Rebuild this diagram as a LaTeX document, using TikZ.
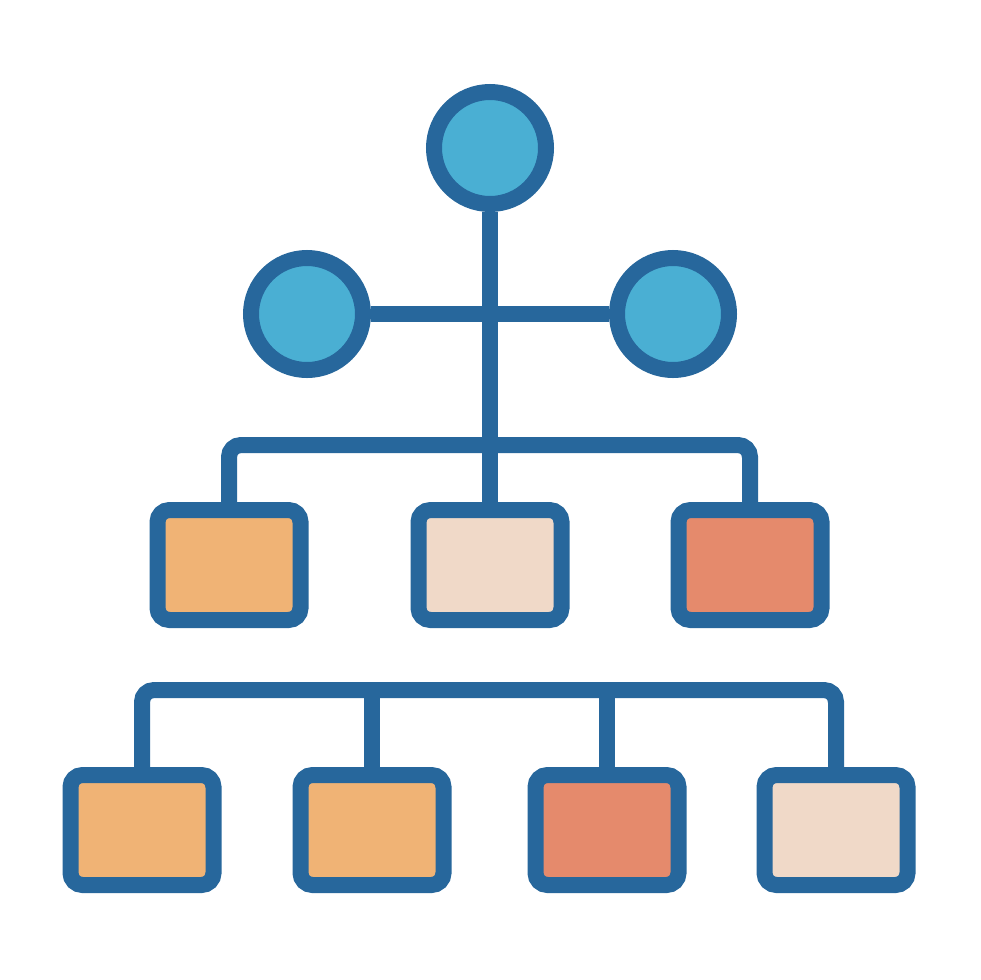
\documentclass[tikz,border=0pt]{standalone}
\usepackage{tikz}
\definecolor{linkblue}{HTML}{27679C}
\definecolor{hubblue}{HTML}{4AAFD3}
\definecolor{unitorange}{HTML}{F0B375}
\definecolor{unitbeige}{HTML}{F0D9C8}
\definecolor{unitsalmon}{HTML}{E58A6C}

\begin{document}
\begin{tikzpicture}[x=1pt,y=-1pt,line width=16pt,
    hub/.style={circle,draw=linkblue,fill=hubblue,minimum size=112pt,inner sep=0pt},
    unit/.style={rectangle,draw=linkblue,rounded corners=12pt,minimum width=143pt,minimum height=110pt,inner sep=0pt},
    link/.style={draw=linkblue,rounded corners=12pt}]

    \useasboundingbox [fill=white] (0,0) rectangle (980,980);

    % circles on top
    \node [hub] (root) at (490,148) {};
    \node [hub] (lhub) at (307,314) {};
    \node [hub] (rhub) at (673,314) {};

    % middle row
    \node [unit,fill=unitorange] (m1) at (229,565) {};
    \node [unit,fill=unitbeige]  (m2) at (490,565) {};
    \node [unit,fill=unitsalmon] (m3) at (750,565) {};

    % bottom row
    \node [unit,fill=unitorange] (b1) at (142,830) {};
    \node [unit,fill=unitorange] (b2) at (372,830) {};
    \node [unit,fill=unitsalmon] (b3) at (607,830) {};
    \node [unit,fill=unitbeige]  (b4) at (836,830) {};

    \coordinate (busa) at (490,445);
    \coordinate (busb) at (490,690);

    % connectors
    \draw [link] (lhub) -- (rhub);
    \draw [link] (root) -- (m2);
    \draw [link] (m1.north) |- (busa) -| (m3.north);

    \draw [link] (b1.north) |- (busb) -| (b4.north);
    \draw [link] (b2.north) -- (b2.north |- busb);
    \draw [link] (b3.north) -- (b3.north |- busb);

\end{tikzpicture}
\end{document}
